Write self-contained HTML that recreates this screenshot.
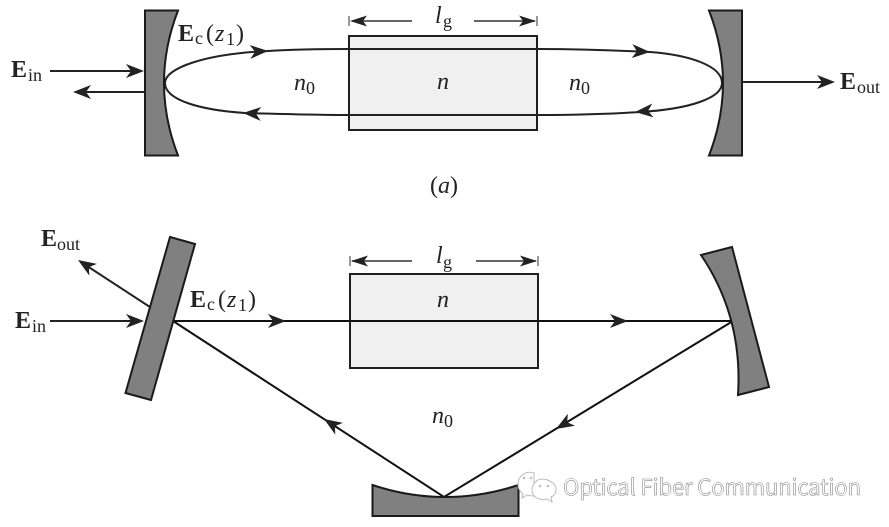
<!DOCTYPE html>
<html><head><meta charset="utf-8"><style>
html,body{margin:0;padding:0;background:#fff}
svg{display:block}
text{font-family:"Liberation Serif",serif;fill:#222}
.b{font-weight:bold;font-size:24px}
.s{font-size:18px}
.i{font-style:italic;font-size:24px}
.p{font-size:24px}
.l{fill:none;stroke:#222;stroke-width:2}
.m{fill:#808080;stroke:#1a1a1a;stroke-width:2}
.a{fill:#222}
</style></head><body>
<svg width="889" height="527" viewBox="0 0 889 527" xmlns="http://www.w3.org/2000/svg">
<defs><path id="h" d="M0 0L-18 -7L-13 0L-18 7Z" class="a"/><path id="d" d="M0 0L-17 -5.500L-13 0L-17 5.500Z" class="a"/></defs>

<rect x="349" y="36" width="188" height="94" fill="#f0f0f0" stroke="#1f1f1f" stroke-width="2"/>
<path class="l" d="M165 83C165 68 205 54 268 51C300 49 330 49 349 49H537C580 49 610 50 650 52C690 55 722 66 722 83"/>
<path class="l" d="M722 83C722 98 690 109 640 112C610 114 580 115 537 115H349C320 115 280 114 245 113C200 110 165 100 165 83"/>
<path class="m" d="M145 10.500H178Q150 83 178 155.500H145Z"/>
<path class="m" d="M742 10.500H709Q737 83 709 155.500H742Z"/>
<use href="#h" transform="translate(268 51) rotate(-3)"/>
<use href="#h" transform="translate(650 52) rotate(3)"/>
<use href="#h" transform="translate(635 112) rotate(175)"/>
<use href="#h" transform="translate(243 113) rotate(183)"/>
<path class="l" d="M50 71H140M145 92H80M742 82H830"/>
<use href="#h" transform="translate(144 71)"/>
<use href="#h" transform="translate(73 92) rotate(180)"/>
<use href="#h" transform="translate(835 82)"/>
<path d="M349 16V26M537 16V26" stroke="#333" stroke-width="1"/>
<path d="M352 21H412M474 21H535" stroke="#333" stroke-width="1.500"/>
<use href="#d" transform="translate(350 21) rotate(180)"/>
<use href="#d" transform="translate(536 21)"/>

<text class="i" x="435" y="23">l</text><text class="s" x="443" y="27">g</text>
<text class="i" x="437" y="89">n</text>
<text class="i" x="294" y="90">n</text><text class="s" x="306" y="94">0</text>
<text class="i" x="569" y="90">n</text><text class="s" x="581" y="94">0</text>
<text class="b" x="11" y="77">E</text><text class="s" x="28" y="81">in</text>
<text class="b" x="178" y="41">E</text><text class="s" x="195" y="44">c</text><text class="p" x="206" y="41">(</text><text class="i" x="215" y="41">z</text><text class="s" x="226" y="45">1</text><text class="p" x="236" y="41">)</text>
<text class="b" x="840" y="89">E</text><text class="s" x="857" y="93">out</text>
<text x="430" y="193" class="p">(<tspan font-style="italic">a</tspan>)</text>

<rect x="350" y="274" width="188" height="94" fill="#f0f0f0" stroke="#1f1f1f" stroke-width="2"/>
<path d="M173 321H733M173 321L444 497L733 321" fill="none" stroke="#111" stroke-width="2"/>
<path d="M153 309L84 264M50 321H140" class="l"/>
<path class="m" d="M170 237L195 244L151 400L125.500 393Z"/>
<path class="m" d="M701 255L732 247L769 387L738 395Q743 317 701 255Z"/>
<path class="m" d="M372.500 485Q445 509 518.500 485V516H372.500Z"/>
<use href="#h" transform="translate(144 321)"/>
<use href="#h" transform="translate(78 260) rotate(213)"/>
<use href="#h" transform="translate(286 321)"/>
<use href="#h" transform="translate(628 321)"/>
<use href="#h" transform="translate(324 419) rotate(213)"/>
<use href="#h" transform="translate(556 429) rotate(149)"/>
<path d="M350 256V266M538 256V266" stroke="#333" stroke-width="1"/>
<path d="M352 261H412M476 261H536" stroke="#333" stroke-width="1.500"/>
<use href="#d" transform="translate(351 261) rotate(180)"/>
<use href="#d" transform="translate(537 261)"/>

<text class="i" x="436" y="263">l</text><text class="s" x="443" y="268">g</text>
<text class="i" x="437" y="307">n</text>
<text class="i" x="432" y="423">n</text><text class="s" x="444" y="427">0</text>
<text class="b" x="41" y="246">E</text><text class="s" x="57" y="250">out</text>
<text class="b" x="15" y="328">E</text><text class="s" x="32" y="332">in</text>
<text class="b" x="190" y="307">E</text><text class="s" x="207" y="310">c</text><text class="p" x="218" y="307">(</text><text class="i" x="227" y="307">z</text><text class="s" x="238" y="311">1</text><text class="p" x="248" y="307">)</text>

<g fill="#fff" stroke="#bbb" stroke-width="1">
<path d="M534 473C525 470 518 477 518 484C518 489 520 491 523 494L522 498L527 495C530 496 532 496 534 496Z"/>
<path d="M542 479C549 479 556 484 556 489C556 493 554 496 551 497L552 502L547 499C538 501 532 496 532 490C532 484 537 479 542 479Z"/>
<circle cx="524" cy="478" r=".8"/><circle cx="531" cy="478" r=".8"/><circle cx="540" cy="486" r=".8"/><circle cx="548" cy="486" r=".8"/>
</g>
<text x="563" y="495" font-size="22" textLength="298" lengthAdjust="spacing" style="font-family:'Noto Sans CJK SC','Liberation Sans',sans-serif;fill:#fff;stroke:#8a8a8a;stroke-width:.6">Optical Fiber Communication</text>
</svg>
</body></html>
